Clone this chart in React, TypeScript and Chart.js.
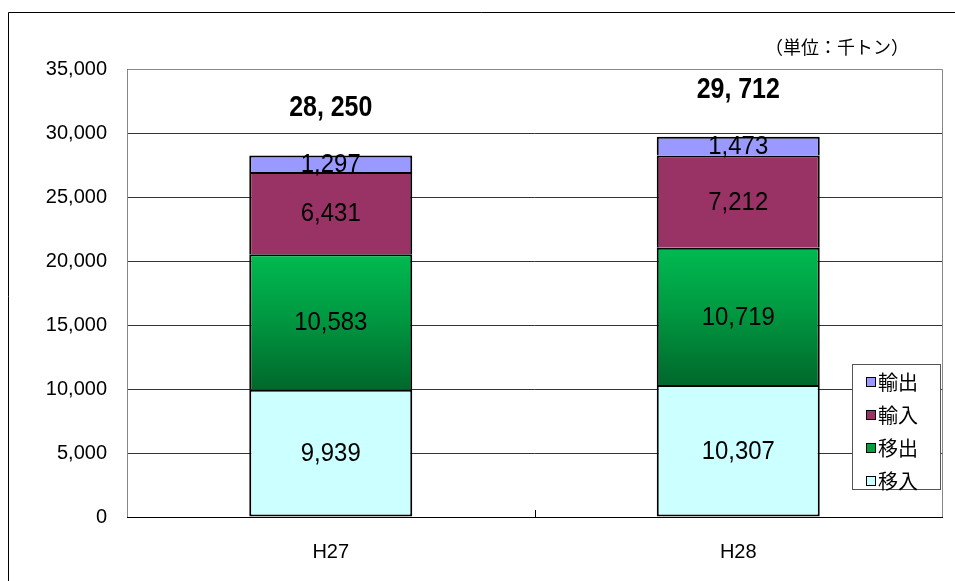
import React, { useEffect, useRef } from "react";
import { Chart, registerables } from "chart.js";

Chart.register(...registerables);

const categories = ["H27", "H28"];
const seriesNames = ["移入", "移出", "輸入", "輸出"];
const inMove = [9939, 10307]; // 移入
const outMove = [10583, 10719]; // 移出
const imports = [6431, 7212]; // 輸入
const exportsV = [1297, 1473]; // 輸出
const totalLabels = [28250, 29712];
const yTicks = [0, 5000, 10000, 15000, 20000, 25000, 30000, 35000];
const unitLabel = "（単位：千トン）";

const NUM_FONT = "'Liberation Sans', Arial, sans-serif";
const JP_FONT = "'Noto Sans CJK JP', sans-serif";

const fmt = (v: number) => v.toLocaleString("en-US");

export default function App() {
  const ref = useRef<HTMLCanvasElement>(null);

  useEffect(() => {
    const canvas = ref.current!;
    const greenFill = (ctx: any) => {
      const chart = ctx.chart;
      const ys = chart.scales?.y;
      if (!ys || ctx.dataIndex === undefined) return "#00B050";
      const i = ctx.dataIndex;
      const top = ys.getPixelForValue(inMove[i] + outMove[i]);
      const bot = ys.getPixelForValue(inMove[i]);
      if (!isFinite(top) || !isFinite(bot)) return "#00B050";
      const g = chart.ctx.createLinearGradient(0, top, 0, bot);
      g.addColorStop(0, "#00BA50");
      g.addColorStop(0.45, "#009A42");
      g.addColorStop(1, "#00682B");
      return g;
    };

    const legendColors = ["#CCFFFF", "#00A040", "#993366", "#9999FF"];

    const drawScaled = (c: any, text: string, x: number, y: number, sx: number) => {
      c.save();
      c.translate(x, y);
      c.scale(sx, 1);
      c.fillText(text, 0, 0);
      c.restore();
    };

    const overlay = {
      id: "overlay",
      afterDatasetsDraw(chart: any) {
        const c = chart.ctx;
        const ca = chart.chartArea;
        c.save();
        // plot border
        c.strokeStyle = "#888888";
        c.lineWidth = 1;
        c.beginPath();
        c.moveTo(Math.round(ca.left) + 0.5, Math.round(ca.bottom));
        c.lineTo(Math.round(ca.left) + 0.5, Math.round(ca.top) + 0.5);
        c.lineTo(Math.round(ca.right) + 0.5, Math.round(ca.top) + 0.5);
        c.lineTo(Math.round(ca.right) + 0.5, Math.round(ca.bottom));
        c.stroke();
        // baseline
        c.strokeStyle = "#000";
        c.beginPath();
        c.moveTo(ca.left, Math.round(ca.bottom) + 0.5);
        c.lineTo(ca.right + 1, Math.round(ca.bottom) + 0.5);
        c.stroke();
        // category separator tick
        const mid = Math.round((ca.left + ca.right) / 2) + 0.5;
        c.beginPath();
        c.moveTo(mid, ca.bottom);
        c.lineTo(mid, ca.bottom - 7);
        c.stroke();

        // segment labels
        c.fillStyle = "#000";
        c.textAlign = "center";
        c.textBaseline = "middle";
        c.font = `26px ${NUM_FONT}`;
        chart.data.datasets.forEach((ds: any, di: number) => {
          const meta = chart.getDatasetMeta(di);
          meta.data.forEach((el: any, i: number) => {
            const y = (el.y + el.base) / 2;
            drawScaled(c, fmt(ds.data[i]), el.x, y + 1, 0.92);
          });
        });
        // totals
        c.font = `bold 29px ${NUM_FONT}`;
        const lastMeta = chart.getDatasetMeta(chart.data.datasets.length - 1);
        lastMeta.data.forEach((el: any, i: number) => {
          const s = fmt(totalLabels[i]).replace(",", ", ");
          drawScaled(c, s, el.x, el.y - 47, 0.86);
        });
        c.restore();
      },
      afterDraw(chart: any) {
        const c = chart.ctx;
        c.save();
        // outer frame
        c.strokeStyle = "#000";
        c.lineWidth = 1;
        c.beginPath();
        c.moveTo(8.5, 581);
        c.lineTo(8.5, 12.5);
        c.lineTo(955, 12.5);
        c.stroke();
        // unit label
        c.fillStyle = "#000";
        c.font = `18px ${JP_FONT}`;
        c.textAlign = "right";
        c.textBaseline = "middle";
        c.fillText(unitLabel, 909, 47);
        // legend
        const bx = 852.5, by = 364.5, bw = 88, bh = 125;
        c.fillStyle = "#fff";
        c.fillRect(bx, by, bw, bh);
        c.strokeStyle = "#555";
        c.strokeRect(bx, by, bw, bh);
        const n = chart.data.datasets.length;
        c.font = `20px ${JP_FONT}`;
        c.textAlign = "left";
        for (let k = 0; k < n; k++) {
          const di = n - 1 - k;
          const y = 382 + k * 33;
          c.fillStyle = legendColors[di];
          c.fillRect(866.5, y - 4.5, 9, 9);
          c.strokeStyle = "#000";
          c.strokeRect(866.5, y - 4.5, 9, 9);
          c.fillStyle = "#000";
          c.fillText(chart.data.datasets[di].label, 878, y);
        }
        c.restore();
      },
    };

    const chart = new Chart(canvas, {
      type: "bar",
      data: {
        labels: categories,
        datasets: [
          { label: seriesNames[0], data: inMove, backgroundColor: "#CCFFFF", borderSkipped: false },
          { label: seriesNames[1], data: outMove, backgroundColor: greenFill as any, borderSkipped: "start" },
          { label: seriesNames[2], data: imports, backgroundColor: "#993366", borderSkipped: "start" },
          { label: seriesNames[3], data: exportsV, backgroundColor: "#9999FF", borderSkipped: "start" },
        ].map((d) => ({
          ...d,
          borderColor: "#000",
          borderWidth: 2,
          barPercentage: 0.4,
          categoryPercentage: 1,
        })) as any,
      },
      plugins: [overlay],
      options: {
        responsive: false,
        animation: false,
        events: [],
        layout: { padding: { left: 0, right: 13, top: 69, bottom: 0 } },
        plugins: { legend: { display: false }, tooltip: { enabled: false } },
        scales: {
          x: {
            stacked: true,
            grid: { display: false },
            border: { display: false },
            ticks: {
              color: "#000",
              font: { family: NUM_FONT, size: 20 },
              padding: 15,
            },
            afterFit: (s: any) => {
              s.height = 64;
            },
          },
          y: {
            stacked: true,
            min: 0,
            max: 35000,
            afterBuildTicks: (s: any) => {
              s.ticks = yTicks.map((v) => ({ value: v }));
            },
            grid: { color: "#333333", drawTicks: false, lineWidth: 1 },
            border: { display: false },
            ticks: {
              color: "#000",
              font: { family: NUM_FONT, size: 20 },
              padding: 20,
              callback: (v: any) => fmt(Number(v)),
            },
            afterFit: (s: any) => {
              s.width = 127;
            },
          },
        },
      },
    });
    return () => chart.destroy();
  }, []);

  return (
    <canvas
      ref={ref}
      width={955}
      height={581}
      style={{ position: "absolute", left: 0, top: 0, width: 955, height: 581 }}
    />
  );
}
